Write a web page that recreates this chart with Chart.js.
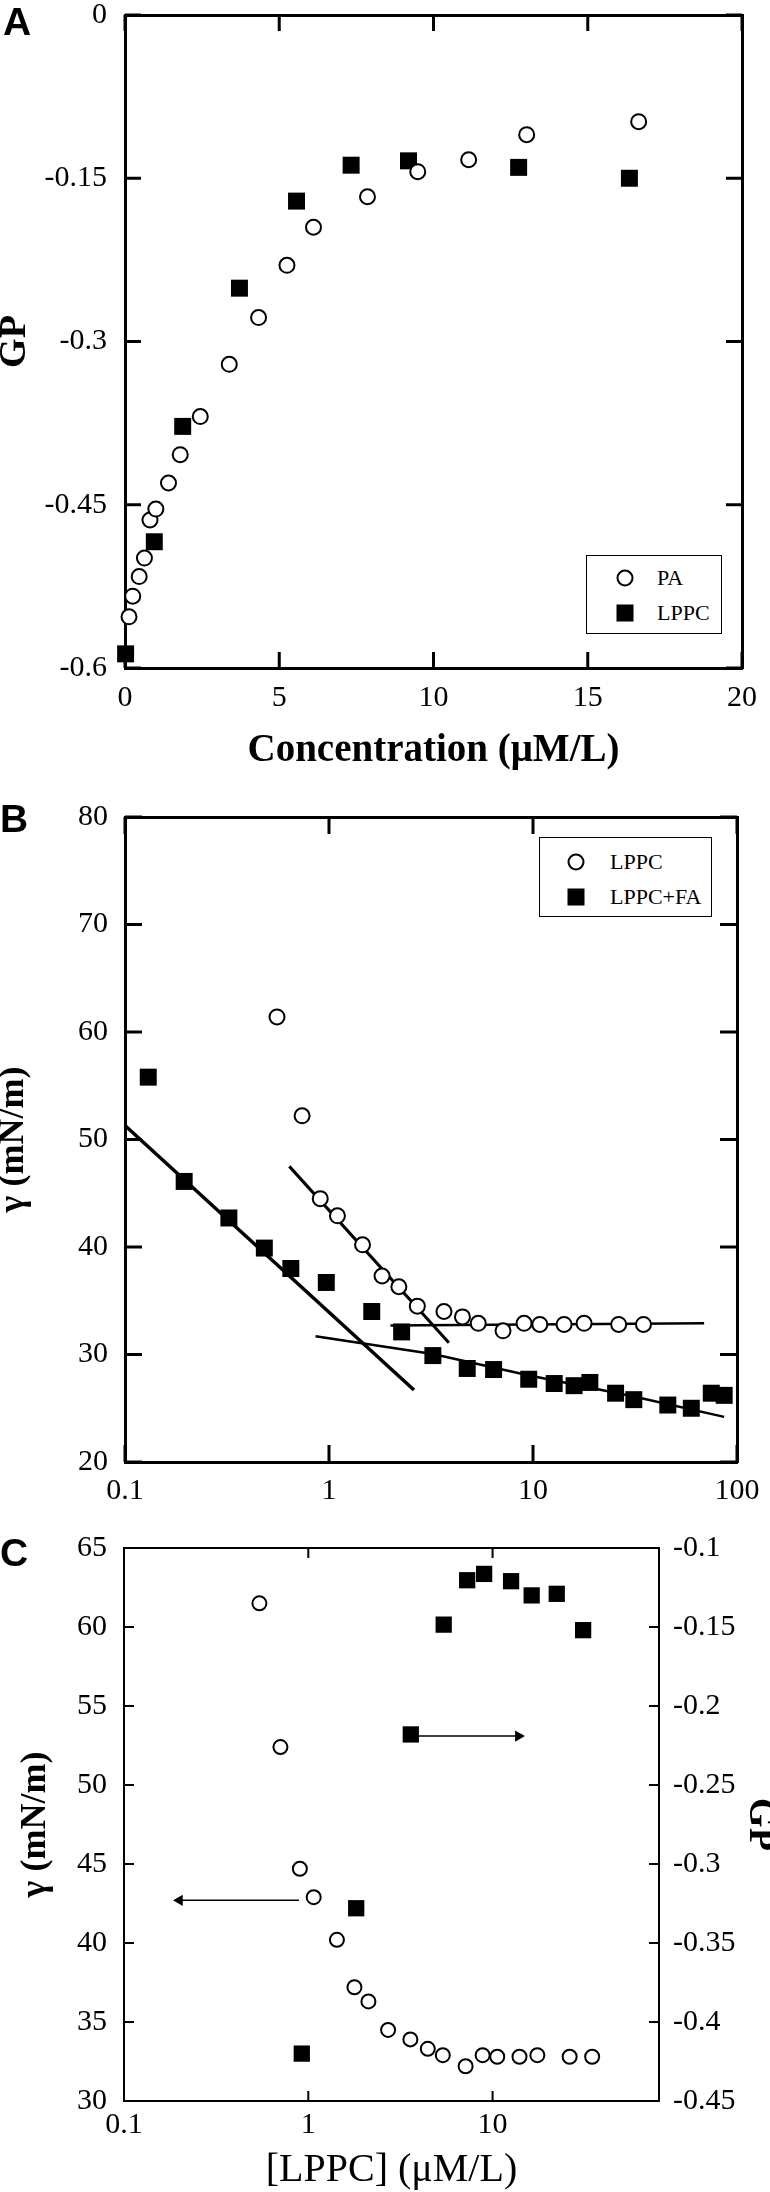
<!DOCTYPE html>
<html>
<head>
<meta charset="utf-8">
<script src="https://cdn.jsdelivr.net/npm/chart.js@4.4.1/dist/chart.umd.min.js"></script>
<style>
  body { margin: 0; background: #fff; }
  #page { position: relative; width: 770px; height: 2192px; overflow: hidden; background: #fff; }
  canvas { position: absolute; left: 0; }
  .panel { position: absolute; font: bold 39px "Liberation Sans", Arial, sans-serif; line-height: 39px; }
  .legend { position: absolute; border: 1.5px solid #000; background: #fff; font: 22px "Liberation Serif", serif; }
  .legend .txt { position: absolute; line-height: 22px; white-space: nowrap; }
  .legend .mk { position: absolute; transform: translate(-50%, -50%); box-sizing: border-box; }
  .mk.c { width: 17px; height: 17px; border: 2px solid #000; border-radius: 50%; background: #fff; }
  .mk.s { width: 17px; height: 17px; background: #000; }
</style>
</head>
<body>
<div id="page">
  <canvas id="chartA" width="770" height="790" style="top:0px"></canvas>
  <canvas id="chartB" width="770" height="725" style="top:790px"></canvas>
  <canvas id="chartC" width="770" height="677" style="top:1515px"></canvas>

  <div class="panel" style="left:3px;top:2px">A</div>
  <div class="panel" style="left:0px;top:799px">B</div>
  <div class="panel" style="left:0px;top:1533px">C</div>

  <div class="legend" style="left:586px;top:555px;width:134px;height:77px">
    <span class="mk c" style="left:38px;top:22px"></span><span class="txt" style="left:70px;top:11px">PA</span>
    <span class="mk s" style="left:38px;top:57px"></span><span class="txt" style="left:70px;top:46px">LPPC</span>
  </div>
  <div class="legend" style="left:539px;top:837px;width:171px;height:78px">
    <span class="mk c" style="left:36px;top:24px"></span><span class="txt" style="left:70px;top:13px">LPPC</span>
    <span class="mk s" style="left:36px;top:59px"></span><span class="txt" style="left:70px;top:48px">LPPC+FA</span>
  </div>
</div>
<script>
// ---- A: GP vs concentration
const aPaX   = [0.13, 0.25, 0.46, 0.63, 0.81, 1.0, 1.41, 1.79, 2.44, 3.38, 4.33, 5.25, 6.11, 7.86, 9.49, 11.14, 13.02, 16.65];
const aPaY   = [-0.553, -0.534, -0.516, -0.499, -0.464, -0.454, -0.430, -0.404, -0.369, -0.321, -0.278, -0.230, -0.195, -0.167, -0.144, -0.133, -0.110, -0.098];
const aLppcX = [0.02, 0.95, 1.87, 3.71, 5.56, 7.33, 9.19, 12.76, 16.35];
const aLppcY = [-0.587, -0.484, -0.378, -0.251, -0.171, -0.138, -0.134, -0.140, -0.150];
const aXTicks = [0, 5, 10, 15, 20];
const aYTicks = [0, -0.15, -0.3, -0.45, -0.6];

// ---- B: surface tension vs [LPPC], log x
const bLppcX = [0.556, 0.738, 0.906, 1.10, 1.46, 1.82, 2.20, 2.71, 3.66, 4.51, 5.39, 7.13, 9.04, 10.8, 14.2, 17.8, 26.3, 34.8];
const bLppcY = [61.4, 52.2, 44.5, 42.9, 40.2, 37.3, 36.3, 34.5, 34.0, 33.5, 32.9, 32.2, 32.9, 32.8, 32.8, 32.9, 32.8, 32.8];
const bFaX = [0.13, 0.195, 0.323, 0.482, 0.650, 0.970, 1.62, 2.27, 3.23, 4.76, 6.41, 9.53, 12.7, 15.9, 19.0, 25.4, 31.2, 45.8, 59.7, 74.8, 86.5];
const bFaY = [55.8, 46.1, 42.7, 39.9, 38.0, 36.7, 34.0, 32.1, 29.9, 28.7, 28.6, 27.7, 27.3, 27.1, 27.4, 26.4, 25.8, 25.3, 25.0, 26.4, 26.2];
// fitted lines drawn in the figure
const fit1X = [0.1, 2.61],  fit1Y = [51.3, 26.7];
const fit2X = [0.639, 3.87], fit2Y = [47.5, 31.1];
const fit3X = [2.0, 69.0],  fit3Y = [32.7, 32.9];
const fit4X = [0.859, 3.23, 9.35, 31.2, 86.5], fit4Y = [31.7, 30.05, 28.1, 26.1, 24.2];
const bXTicks = [0.1, 1, 10, 100];
const bYTicks = [20, 30, 40, 50, 60, 70, 80];

// ---- C: gamma (left) and GP (right) vs [LPPC]
const cGamX = [0.543, 0.706, 0.900, 1.07, 1.43, 1.78, 2.12, 2.71, 3.58, 4.45, 5.37, 7.14, 8.83, 10.6, 14.0, 17.5, 26.2, 34.7];
const cGamY = [61.5, 52.4, 44.7, 42.9, 40.2, 37.2, 36.3, 34.5, 33.9, 33.3, 32.9, 32.2, 32.9, 32.8, 32.8, 32.9, 32.8, 32.8];
const cGpX = [0.922, 1.82, 3.60, 5.43, 7.28, 9.0, 12.6, 16.3, 22.3, 31.0];
const cGpY = [-0.420, -0.328, -0.218, -0.1485, -0.1204, -0.1164, -0.121, -0.130, -0.129, -0.152];
const arrowLX = [0.89, 0.20],  arrowLY = [42.7, 42.7];
const arrowRX = [3.63, 13.8],  arrowRY = [-0.219, -0.219];
const cXTicks = [0.1, 1, 10];
const cYTicks = [30, 35, 40, 45, 50, 55, 60, 65];
const cY2Ticks = [-0.45, -0.4, -0.35, -0.3, -0.25, -0.2, -0.15, -0.1];

const SERIF = '"Liberation Serif", "Times New Roman", serif';
const pts = (xs, ys) => xs.map((x, i) => ({ x, y: ys[i] }));

// tick marks pointing into the plot, on every side
function innerTicks(len, width, tickSets) {
  return {
    id: 'innerTicks',
    afterDraw(chart) {
      const ctx = chart.ctx;
      const a = chart.chartArea;
      ctx.save();
      ctx.strokeStyle = '#000';
      ctx.lineWidth = width;
      Object.keys(tickSets).forEach(id => {
        const s = chart.scales[id];
        if (!s) return;
        tickSets[id].forEach(v => {
          const p = s.getPixelForValue(v);
          ctx.beginPath();
          if (s.position === 'left') { ctx.moveTo(a.left, p); ctx.lineTo(a.left + len, p); }
          else if (s.position === 'right') { ctx.moveTo(a.right, p); ctx.lineTo(a.right - len, p); }
          else if (s.position === 'top') { ctx.moveTo(p, a.top); ctx.lineTo(p, a.top + len); }
          else { ctx.moveTo(p, a.bottom); ctx.lineTo(p, a.bottom - len); }
          ctx.stroke();
        });
      });
      ctx.restore();
    }
  };
}

function axis(o) {
  return {
    type: o.type || 'linear',
    position: o.position,
    min: o.min,
    max: o.max,
    afterFit: s => {
      if (s.isHorizontal()) s.height = o.size; else s.width = o.size;
      s.paddingLeft = s.paddingRight = s.paddingTop = s.paddingBottom = 0;
    },
    afterBuildTicks: s => { s.ticks = o.ticks.map(v => ({ value: v })); },
    border: { display: true, color: '#000', width: o.lw },
    grid: { display: false, drawTicks: false },
    ticks: {
      display: !!o.labels, padding: o.pad || 0, autoSkip: false, maxRotation: 0, color: '#000',
      font: { family: SERIF, size: 30 }, callback: v => String(v)
    },
    title: o.title ? {
      display: true, text: o.title, color: '#000',
      font: { family: SERIF, size: o.tSize, weight: o.tWeight || 'bold' },
      padding: o.tPad
    } : { display: false }
  };
}

function circles(xs, ys, r, extra) {
  return Object.assign({ data: pts(xs, ys), pointStyle: 'circle', pointRadius: r, backgroundColor: '#fff', borderColor: '#000', borderWidth: 2, clip: false }, extra);
}
function squares(xs, ys, r, extra) {
  return Object.assign({ data: pts(xs, ys), pointStyle: 'rect', pointRadius: r, backgroundColor: '#000', borderColor: '#000', borderWidth: 0, clip: false }, extra);
}
function line(xs, ys, w, extra) {
  return Object.assign({ data: pts(xs, ys), showLine: true, pointRadius: 0, borderColor: '#000', borderWidth: w, clip: false }, extra);
}

function options(scales) {
  return {
    responsive: false,
    animation: false,
    devicePixelRatio: 1,
    events: [],
    layout: { padding: 0 },
    plugins: { legend: { display: false }, tooltip: { enabled: false } },
    scales
  };
}

// Panel A
new Chart(document.getElementById('chartA'), {
  type: 'scatter',
  plugins: [innerTicks(16, 3, { x: aXTicks, x2: aXTicks, y: aYTicks, y2: aYTicks })],
  data: {
    datasets: [
      circles(aPaX, aPaY, 7.5),
      squares(aLppcX, aLppcY, 12)
    ]
  },
  options: options({
    x: axis({ position: 'bottom', min: 0, max: 20, size: 122, ticks: aXTicks, lw: 3, labels: true, pad: 12,
              title: 'Concentration (μM/L)', tSize: 39, tPad: { top: 0, bottom: 16 } }),
    x2: axis({ position: 'top', min: 0, max: 20, size: 15, ticks: aXTicks, lw: 3 }),
    y: axis({ position: 'left', min: -0.6, max: 0, size: 125, ticks: aYTicks, lw: 3, labels: true, pad: 18,
              title: 'GP', tSize: 38, tPad: { top: -8, bottom: 0 } }),
    y2: axis({ position: 'right', min: -0.6, max: 0, size: 28, ticks: aYTicks, lw: 3 })
  })
});

// Panel B
new Chart(document.getElementById('chartB'), {
  type: 'scatter',
  plugins: [innerTicks(17, 3, { x: bXTicks, x2: bXTicks, y: bYTicks, y2: bYTicks })],
  data: {
    datasets: [
      circles(bLppcX, bLppcY, 7.5),
      squares(bFaX, bFaY, 12),
      line(fit1X, fit1Y, 3.5),
      line(fit2X, fit2Y, 3),
      line(fit3X, fit3Y, 2.5),
      line(fit4X, fit4Y, 2.5)
    ]
  },
  options: options({
    x: axis({ type: 'logarithmic', position: 'bottom', min: 0.1, max: 100, size: 53, ticks: bXTicks, lw: 3, labels: true, pad: 11 }),
    x2: axis({ type: 'logarithmic', position: 'top', min: 0.1, max: 100, size: 27, ticks: bXTicks, lw: 3 }),
    y: axis({ position: 'left', min: 20, max: 80, size: 125, ticks: bYTicks, lw: 3, labels: true, pad: 17,
              title: 'γ (mN/m)', tSize: 36, tPad: { top: -8, bottom: 0 } }),
    y2: axis({ position: 'right', min: 20, max: 80, size: 33, ticks: bYTicks, lw: 3 })
  })
});

// Panel C
new Chart(document.getElementById('chartC'), {
  type: 'scatter',
  plugins: [innerTicks(10, 2, { x: cXTicks, x2: cXTicks, y: cYTicks, y2: cY2Ticks })],
  data: {
    datasets: [
      circles(cGamX, cGamY, 7, { yAxisID: 'y' }),
      squares(cGpX, cGpY, 11.5, { yAxisID: 'y2' }),
      line(arrowLX, arrowLY, 1.5, { yAxisID: 'y', pointStyle: 'triangle', pointRadius: [0, 5], pointRotation: [0, 270], backgroundColor: '#000' }),
      line(arrowRX, arrowRY, 1.5, { yAxisID: 'y2', pointStyle: 'triangle', pointRadius: [0, 5], pointRotation: [0, 90], backgroundColor: '#000' })
    ]
  },
  options: options({
    x: axis({ type: 'logarithmic', position: 'bottom', min: 0.1, max: 80, size: 91, ticks: cXTicks, lw: 2, labels: true, pad: 6,
              title: '[LPPC] (μM/L)', tSize: 40, tWeight: 'normal', tPad: { top: 0, bottom: -2 } }),
    x2: axis({ type: 'logarithmic', position: 'top', min: 0.1, max: 80, size: 33, ticks: cXTicks, lw: 2 }),
    y: axis({ position: 'left', min: 30, max: 65, size: 124, ticks: cYTicks, lw: 2, labels: true, pad: 17,
              title: 'γ (mN/m)', tSize: 36, tPad: { top: 14, bottom: 0 } }),
    y2: axis({ position: 'right', min: -0.45, max: -0.1, size: 111, ticks: cY2Ticks, lw: 2, labels: true, pad: 14,
               title: 'GP', tSize: 38, tPad: { top: -13, bottom: 0 } })
  })
});
</script>
</body>
</html>
